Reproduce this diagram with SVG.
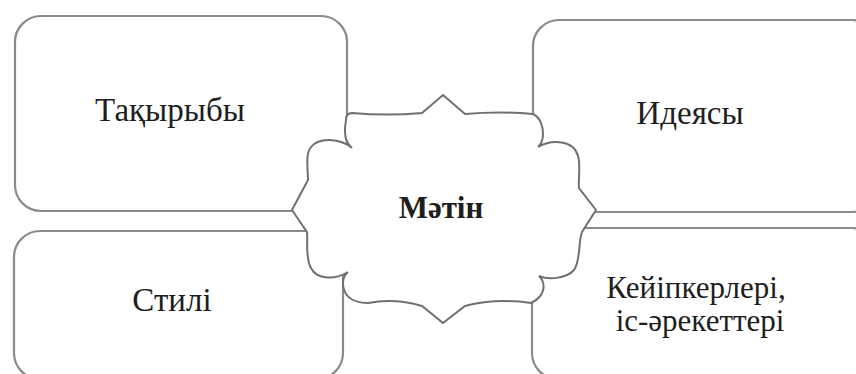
<svg xmlns="http://www.w3.org/2000/svg" width="856" height="374" viewBox="0 0 856 374" font-family="Liberation Serif, Times New Roman, serif">
<style>
.box{fill:#ffffff;stroke:#8a8a8a;stroke-width:2.2}
.plaque{fill:#ffffff;stroke:#707070;stroke-width:2}
</style>
<rect width="856" height="374" fill="#ffffff"/>
<g id="connectors"></g>
<g id="node-topic">
<rect class="box" x="15" y="16" width="332" height="195" rx="26" ry="26"/>
<text font-family="Liberation Serif" font-size="33" fill="#1e1e1e" text-anchor="middle" x="170" y="121">Тақырыбы</text>
</g>
<g id="node-idea">
<rect class="box" x="533" y="20" width="345" height="192" rx="26" ry="26"/>
<text font-family="Liberation Serif" font-size="33" fill="#1e1e1e" text-anchor="middle" x="690" y="124">Идеясы</text>
</g>
<g id="node-style">
<rect class="box" x="14" y="231" width="329" height="148" rx="26" ry="26"/>
<text font-family="Liberation Serif" font-size="33" fill="#1e1e1e" text-anchor="middle" x="172" y="311">Стилі</text>
</g>
<g id="node-characters">
<rect class="box" x="532" y="228" width="346" height="151" rx="26" ry="26"/>
<text font-family="Liberation Serif" font-size="31" fill="#1e1e1e" text-anchor="middle" x="696" y="298">Кейіпкерлері,</text>
<text font-family="Liberation Serif" font-size="31" fill="#1e1e1e" text-anchor="middle" x="700" y="331">іс-әрекеттері</text>
</g>
<g id="node-text">
<path class="plaque" d="M443,95 L465,114 Q500,111 533,114 C540,117 543,126 543,134 Q543,142 538,147 C552,139 574,140 578,156 C581,166 578,180 579,188 L596,210 L582,232 C578,242 581,260 574,270 C566,279 548,280 539,276 C546,283 546,296 531,303 Q495,298 465,306 L443,323 L422,306 Q395,298 368,303 C350,303 343,294 343,283 Q343,276 348,272 C335,280 317,280 311,268 C305,258 308,240 307,232 L292,210 L308,180 C308,168 305,155 311,147 C319,137 340,138 352,148 C345,142 345,135 345,128 L346,120 Q346,113 352,113 Q388,116 422,113 Z"/>
<text font-family="Liberation Serif" font-weight="bold" font-size="31" fill="#1e1e1e" text-anchor="middle" x="441" y="218">Мәтін</text>
</g>
</svg>
